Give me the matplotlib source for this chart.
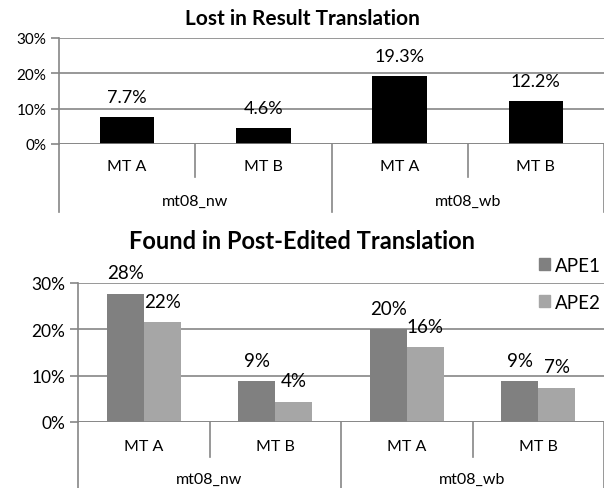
import numpy as np
import matplotlib
matplotlib.use("Agg")
import matplotlib.pyplot as plt
from matplotlib.transforms import blended_transform_factory
from matplotlib.patches import Patch

plt.rcParams['font.family'] = ['Lato', 'DejaVu Sans']

# data
systems = ["MT A", "MT B", "MT A", "MT B"]
groups = ["mt08_nw", "mt08_wb"]
lost = [7.7, 4.6, 19.3, 12.2]
lost_labels = ["7.7%", "4.6%", "19.3%", "12.2%"]
ape1 = [27.7, 8.8, 20.0, 8.8]
ape2 = [21.6, 4.4, 16.1, 7.4]
ape1_labels = ["28%", "9%", "20%", "9%"]
ape2_labels = ["22%", "4%", "16%", "7%"]
yticks = [0, 10, 20, 30]

W, H = 604, 489
fig = plt.figure(figsize=(W / 100, H / 100), dpi=100)

grid_c = "#868686"


def fy(px):
    return 1 - px / H


def setup_axis(ax, fs, tick_len):
    ax.set_xlim(-0.5, 3.5)
    ax.set_ylim(0, 30)
    ax.set_yticks(yticks)
    ax.set_yticklabels([f"{t}%" for t in yticks], fontsize=fs)
    ax.yaxis.grid(True, color=grid_c, linewidth=1.2)
    ax.set_axisbelow(True)
    for s in ["top", "right", "bottom"]:
        ax.spines[s].set_visible(False)
    ax.spines["left"].set_color(grid_c)
    ax.spines["left"].set_linewidth(1.2)
    ax.tick_params(axis="y", length=tick_len, color=grid_c, width=1.2, pad=3)
    ax.set_xticks([])


def category_axis(ax, y0, y_inner, y_outer, y_cat, y_grp, fs):
    tr = blended_transform_factory(ax.transData, fig.transFigure)
    for x in [-0.5, 1.5, 3.5]:
        ax.plot([x, x], [fy(y0), fy(y_outer)], color=grid_c, lw=1.2,
                transform=tr, clip_on=False)
    for x in [0.5, 2.5]:
        ax.plot([x, x], [fy(y0), fy(y_inner)], color=grid_c, lw=1.2,
                transform=tr, clip_on=False)
    for i, s in enumerate(systems):
        ax.text(i, fy(y_cat), s, transform=tr, ha="center", va="center",
                fontsize=fs)
    for i, g in enumerate(groups):
        ax.text(2 * i + 0.5, fy(y_grp), g, transform=tr, ha="center",
                va="center", fontsize=fs)


# top chart
ax1 = fig.add_axes([59 / W, fy(145), (W - 59) / W, (145 - 39) / H])
setup_axis(ax1, 11, 6)
x = np.arange(4)
bars = ax1.bar(x, lost, width=0.4, color="black", zorder=3)
for b, lab in zip(bars, lost_labels):
    ax1.annotate(lab, (b.get_x() + b.get_width() / 2, b.get_height()),
                 xytext=(0, 14.5), textcoords="offset points",
                 ha="center", va="center", fontsize=13)
ax1.axhline(0, color=grid_c, lw=1.2, zorder=4)
category_axis(ax1, 145, 178, 213, 167, 202, 11.5)
fig.text(0.5, fy(19), "Lost in Result Translation", ha="center",
         va="center", fontsize=15, fontweight="bold")

# bottom chart
ax2 = fig.add_axes([78 / W, fy(423), (W - 78) / W, (423 - 284) / H])
setup_axis(ax2, 12.5, 6)
bw = 0.28
b1 = ax2.bar(x - bw / 2, ape1, width=bw, color="#808080", zorder=3)
b2 = ax2.bar(x + bw / 2, ape2, width=bw, color="#a6a6a6", zorder=3)
for bs, labs in [(b1, ape1_labels), (b2, ape2_labels)]:
    for b, lab in zip(bs, labs):
        ax2.annotate(lab, (b.get_x() + b.get_width() / 2, b.get_height()),
                     xytext=(0, 15), textcoords="offset points",
                     ha="center", va="center", fontsize=13.5)
ax2.axhline(0, color=grid_c, lw=1.2, zorder=4)
category_axis(ax2, 423, 458, 489, 447, 480, 11.5)
fig.text(0.5, fy(242), "Found in Post-Edited Translation", ha="center",
         va="center", fontsize=17, fontweight="bold")

handles = [Patch(color="#808080"), Patch(color="#a6a6a6")]
fig.legend(handles, ["APE1", "APE2"], loc="upper left",
           bbox_to_anchor=(539 / W, fy(258)), frameon=False, fontsize=13.5,
           handlelength=0.6, handleheight=0.6, handletextpad=0.25,
           labelspacing=1.05, borderpad=0, borderaxespad=0)

fig.savefig("out.png", dpi=100)
